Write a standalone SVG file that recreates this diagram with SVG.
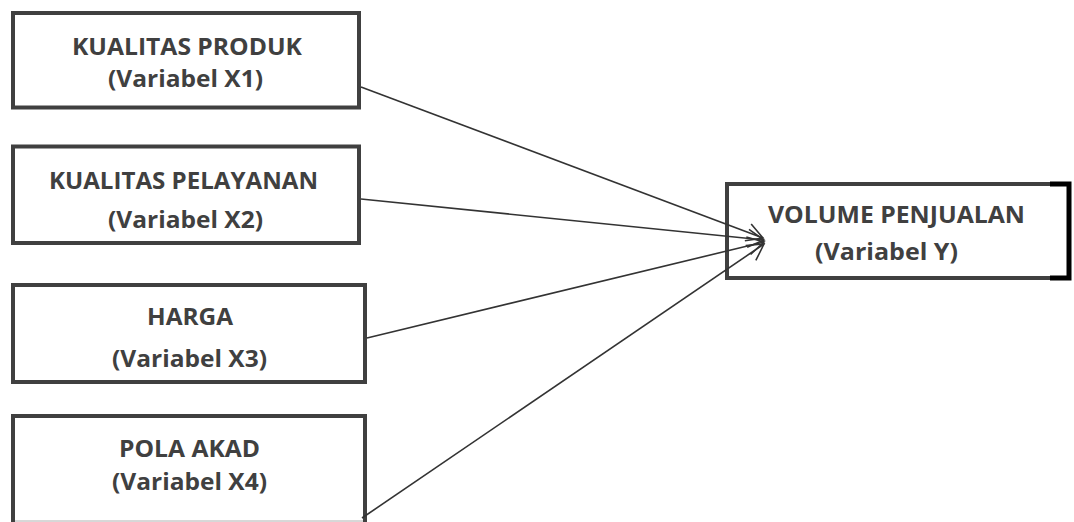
<svg xmlns="http://www.w3.org/2000/svg" width="1074" height="522" viewBox="0 0 1074 522">
  <style>
    .box { fill: #ffffff; stroke: #404040; stroke-width: 4; }
    .lbl { font-family: "Open Sans", "Liberation Sans", sans-serif; font-weight: bold; font-size: 23px; fill: #404040; text-anchor: middle; }
    .conn { stroke: #333333; stroke-width: 1.6; fill: none; marker-end: url(#arrow); }
  </style>
  <defs>
    <marker id="arrow" markerUnits="userSpaceOnUse" markerWidth="20" markerHeight="20" refX="16" refY="9" orient="auto" overflow="visible">
      <path d="M0,0 L16,9 L0,18" fill="none" stroke="#333333" stroke-width="1.6"/>
    </marker>
  </defs>
  <rect width="1074" height="522" fill="#ffffff"/>

  <g id="x1">
    <rect class="box" x="13" y="13" width="346" height="94.5"/>
    <text class="lbl" x="187" y="54.5" textLength="230" lengthAdjust="spacingAndGlyphs">KUALITAS PRODUK</text>
    <text class="lbl" x="185.5" y="87" textLength="155" lengthAdjust="spacingAndGlyphs">(Variabel X1)</text>
  </g>

  <g id="x2">
    <rect class="box" x="13" y="146.5" width="346" height="96.5"/>
    <text class="lbl" x="183.5" y="189" textLength="269" lengthAdjust="spacingAndGlyphs">KUALITAS PELAYANAN</text>
    <text class="lbl" x="185.5" y="228" textLength="155" lengthAdjust="spacingAndGlyphs">(Variabel X2)</text>
  </g>

  <g id="x3">
    <rect class="box" x="13" y="285" width="352" height="97"/>
    <text class="lbl" x="190" y="325" textLength="86" lengthAdjust="spacingAndGlyphs">HARGA</text>
    <text class="lbl" x="189.5" y="367" textLength="155" lengthAdjust="spacingAndGlyphs">(Variabel X3)</text>
  </g>

  <g id="x4">
    <rect class="box" x="13" y="416" width="352" height="120"/>
    <line x1="15" y1="521" x2="363" y2="521" stroke="#b0b0b0" stroke-width="1"/>
    <text class="lbl" x="189.5" y="457" textLength="141" lengthAdjust="spacingAndGlyphs">POLA AKAD</text>
    <text class="lbl" x="189.5" y="490" textLength="155" lengthAdjust="spacingAndGlyphs">(Variabel X4)</text>
  </g>

  <g id="y">
    <rect class="box" x="727" y="184" width="342" height="94"/>
    <path d="M1050,184 L1069,184 L1069,278 L1050,278" fill="none" stroke="#000000" stroke-width="5"/>
    <text class="lbl" x="896.5" y="223" textLength="257" lengthAdjust="spacingAndGlyphs">VOLUME PENJUALAN</text>
    <text class="lbl" x="886.5" y="260" textLength="143" lengthAdjust="spacingAndGlyphs">(Variabel Y)</text>
  </g>

  <g id="connectors">
    <line class="conn" x1="361" y1="87" x2="763" y2="238"/>
    <line class="conn" x1="361" y1="199" x2="764" y2="240"/>
    <line class="conn" x1="367" y1="338" x2="764" y2="242"/>
    <line class="conn" x1="362" y1="518" x2="764" y2="244"/>
  </g>
</svg>
